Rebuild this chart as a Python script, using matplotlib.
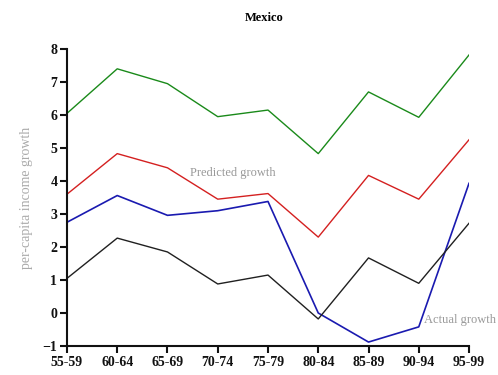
import matplotlib.pyplot as plt

# Five-year periods and growth series (per cent per year)
periods = ["55-59", "60-64", "65-69", "70-74", "75-79", "80-84", "85-89", "90-94", "95-99"]
upper_band = [6.05, 7.4, 6.95, 5.95, 6.15, 4.83, 6.7, 5.93, 7.82]
predicted = [3.6, 4.83, 4.4, 3.45, 3.62, 2.3, 4.17, 3.45, 5.25]
actual = [2.75, 3.56, 2.96, 3.1, 3.38, 0.0, -0.88, -0.42, 3.93]
lower_band = [1.05, 2.27, 1.85, 0.88, 1.15, -0.18, 1.67, 0.9, 2.72]

plt.rcParams['font.family'] = ['Liberation Serif', 'DejaVu Serif']

fig = plt.figure(figsize=(4.98, 3.75), dpi=100)
ax = fig.add_axes([0.1345, 0.0773, 0.8073, 0.792])

x = list(range(len(periods)))
ax.plot(x, upper_band, color='#1a8a1a', lw=1.0)
ax.plot(x, predicted, color='#d42020', lw=1.0)
ax.plot(x, actual, color='#1a1ab0', lw=1.2)
ax.plot(x, lower_band, color='#202020', lw=1.0)

ax.set_xlim(0, len(periods) - 1)
ax.set_ylim(-1, 8)
ax.set_xticks(x)
ax.set_xticklabels(periods)
ax.set_yticks(range(-1, 9))

for side in ('top', 'right'):
    ax.spines[side].set_visible(False)
for side in ('left', 'bottom'):
    ax.spines[side].set_linewidth(1.5)
    ax.spines[side].set_color('#111111')

ax.tick_params(axis='both', direction='out', length=5, width=1.5, color='#111111',
               labelsize=10, labelcolor='#111111', pad=2)
for lab in ax.get_xticklabels() + ax.get_yticklabels():
    lab.set_fontweight('bold')

ax.set_ylabel("per-capita income growth", fontsize=10, color='#aaaaaa', labelpad=7)
ax.set_title("Mexico", fontsize=9, fontweight='bold', pad=20, x=0.49)

ax.text(2.45, 4.25, "Predicted growth", fontsize=9, color='#999999', va='center')
ax.text(7.1, -0.2, "Actual growth", fontsize=9, color='#999999', va='center')

fig.savefig("out.png", dpi=100)
